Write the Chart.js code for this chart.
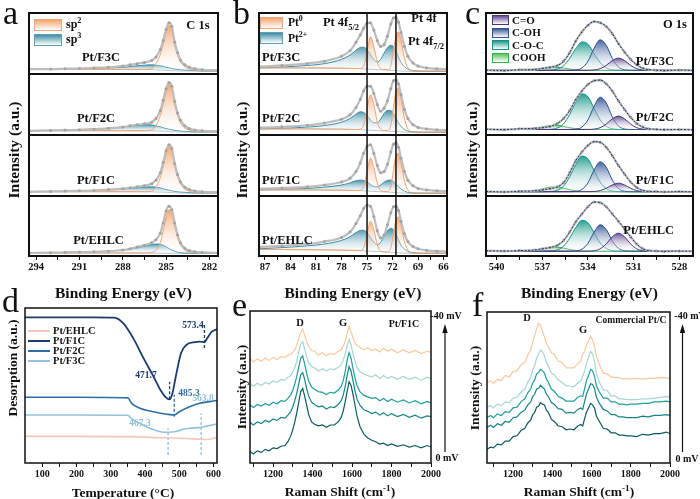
<!DOCTYPE html>
<html>
<head>
<meta charset="utf-8">
<title>XPS / TPD / Raman</title>
<script src="https://cdn.jsdelivr.net/npm/chart.js@4.4.1/dist/chart.umd.min.js"></script>
<style>
  html, body { margin: 0; padding: 0; background: #fff; }
  #fig { position: relative; width: 700px; height: 499px; overflow: hidden;
         font-family: "Liberation Serif", "Times New Roman", serif; color: #111; }
  #fig canvas { position: absolute; z-index: 1; }
  #ov { position: absolute; left: 0; top: 0; z-index: 5; }
  .t { position: absolute; white-space: nowrap; font-weight: bold; line-height: 1; z-index: 6; }
  .rot { position: absolute; white-space: nowrap; font-weight: bold; line-height: 1; z-index: 6;
         transform: translate(-50%, -50%) rotate(-90deg); }
  .sw { position: absolute; box-sizing: border-box; z-index: 6; }
  sub, sup { font-size: 68%; line-height: 0; }
</style>
</head>
<body>
<div id="fig">
  <svg id="ov" width="700" height="499">
    <!-- potential arrows, panels e and f -->
    <line x1="445" y1="452" x2="445" y2="331" stroke="#111" stroke-width="1.2"/>
    <polygon points="445,324 442.3,333 447.7,333" fill="#111"/>
    <line x1="682.5" y1="452" x2="682.5" y2="331" stroke="#111" stroke-width="1.2"/>
    <polygon points="682.5,324 679.8,333 685.2,333" fill="#111"/>
    <!-- legend lines, panel d -->
    <line x1="28" y1="331" x2="50" y2="331" stroke="#f5c6ba" stroke-width="2"/>
    <line x1="28" y1="341" x2="50" y2="341" stroke="#1d3c6e" stroke-width="2"/>
    <line x1="28" y1="351" x2="50" y2="351" stroke="#2c6fa6" stroke-width="2"/>
    <line x1="28" y1="361" x2="50" y2="361" stroke="#93c3da" stroke-width="2"/>
  </svg>
</div>
<script>
// ---------- a: C 1s ----------
const cX = [294.5, 293, 292, 291, 290, 289, 288, 287.5, 287, 286.5, 286, 285.7, 285.4, 285.2, 285.0, 284.8, 284.6, 284.4, 284.2, 284.0, 283.7, 283.4, 283, 282.5, 281.4];
const aEnvF3C  = [8, 8, 8.5, 9, 10, 11, 13, 15, 17, 19, 22, 28, 40, 55, 73, 84, 78, 52, 35, 23, 15, 11, 8.5, 7, 6];
const aSp2F3C  = [7.5, 7.5, 7.5, 7.5, 7.5, 7.5, 7.5, 7.5, 7.5, 7.5, 8.5, 17, 32, 48, 68, 80, 74, 48, 31, 20, 12, 8.5, 6.5, 5.5, 5];
const aSp3F3C  = [7.5, 8, 8.5, 9, 9.5, 10, 11, 12, 13.5, 14.5, 15, 14.5, 13.5, 12.5, 11, 10, 9, 8, 7.5, 7, 6.5, 6, 5.5, 5, 5];
const aBaseF3C = [7.5, 7.5, 7.5, 7.5, 7.5, 7.5, 7.5, 7.5, 7.5, 7.5, 7.3, 7, 6.7, 6.4, 6.1, 5.8, 5.6, 5.4, 5.2, 5, 5, 5, 5, 5, 5];
const aEnvF2C  = [7, 7.5, 8, 8.5, 9.5, 11, 13, 15, 17, 18.5, 21, 27, 40, 57, 76, 86, 80, 55, 36, 24, 15, 10.5, 8, 7, 6];
const aSp2F2C  = [7, 7, 7, 7, 7, 7, 7, 7, 7, 7, 8, 16, 32, 50, 71, 83, 76, 50, 32, 20, 11.5, 8, 6.5, 5.5, 5];
const aSp3F2C  = [7, 7.5, 8, 8.5, 9.5, 11, 13, 14.5, 16, 17, 16.5, 15, 13.5, 12, 10.5, 9.5, 8.5, 7.5, 7, 6.5, 6, 5.5, 5, 5, 5];
const aBaseF2C = [7, 7, 7, 7, 7, 7, 7, 7, 7, 7, 6.9, 6.7, 6.5, 6.3, 6.1, 5.8, 5.6, 5.4, 5.2, 5, 5, 5, 5, 5, 5];
const aEnvF1C  = [7, 7.5, 8, 8.5, 9, 10.5, 12, 13.5, 15, 17, 20, 26, 38, 55, 74, 84, 78, 53, 35, 23, 14.5, 10.5, 8, 7, 6];
const aSp2F1C  = [7, 7, 7, 7, 7, 7, 7, 7, 7, 7, 8, 15, 30, 48, 69, 81, 75, 49, 31, 20, 11.5, 8, 6.5, 5.5, 5];
const aSp3F1C  = [7, 7.5, 8, 8.5, 9, 10, 11.5, 12.5, 13.5, 14.5, 15, 14.5, 13.5, 12, 10.5, 9.5, 8.5, 7.5, 7, 6.5, 6, 5.5, 5, 5, 5];
const aBaseF1C = [7, 7, 7, 7, 7, 7, 7, 7, 7, 7, 6.9, 6.7, 6.5, 6.3, 6.1, 5.8, 5.6, 5.4, 5.2, 5, 5, 5, 5, 5, 5];
const aEnvEHLC  = [5, 5.5, 6, 6.5, 7, 8, 10, 12, 15, 18, 22, 27, 38, 55, 75, 83, 77, 55, 35, 22, 13, 9, 7, 6, 5];
const aSp2EHLC  = [5, 5, 5, 5, 5, 5, 5, 5, 5, 5, 6, 9, 22, 42, 65, 77, 72, 50, 31, 19, 10, 7, 5.5, 5, 4.5];
const aSp3EHLC  = [5, 5.5, 6, 6.5, 7, 8, 10, 11.5, 13.5, 16.5, 19, 20, 19.5, 18, 15.5, 12.5, 10, 8, 6.5, 5.5, 5, 4.8, 4.6, 4.5, 4.5];
const aBaseEHLC = [5, 5, 5, 5, 5, 5, 5, 5, 5, 5, 4.9, 4.8, 4.7, 4.6, 4.5, 4.5, 4.5, 4.5, 4.5, 4.5, 4.5, 4.5, 4.5, 4.5, 4.5];
const aTicks = [294, 291, 288, 285, 282];
const aMinor = [292.5, 289.5, 286.5, 283.5];

// ---------- b: Pt 4f ----------
const pX = [87.7, 85, 82, 80, 78, 77, 76.3, 75.8, 75.4, 75.0, 74.6, 74.2, 73.8, 73.4, 73.0, 72.6, 72.2, 71.9, 71.6, 71.3, 71.0, 70.6, 70.2, 69.6, 69, 68, 66.8, 65.6];
const bBase    = [10, 10, 10, 9.8, 9.5, 9.2, 9, 8.8, 8.5, 8.2, 7.9, 7.6, 7.3, 7.0, 6.8, 6.5, 6.2, 5.9, 5.6, 5.3, 5.0, 4.8, 4.6, 4.5, 4.5, 4.5, 4.5, 4.5];
const bEnvF3C  = [12, 14, 17, 21, 29, 38, 52, 64, 75, 83, 84, 72, 55, 45, 48, 62, 82, 92, 93, 85, 68, 45, 29, 18, 13, 10, 8.5, 8];
const bPt0F3C  = [10, 10, 10, 9.8, 9.5, 9.2, 9, 9, 13, 36, 61, 45, 20, 9, 7.5, 7.5, 14, 38, 62, 69, 55, 26, 10, 5, 4.5, 4.5, 4.5, 4.5];
const bPt2F3C  = [10, 11.5, 14, 17, 24, 31, 39, 43.5, 44, 40, 32, 24, 20, 24, 34, 43, 47, 45, 38, 28, 19, 12, 8, 5.5, 4.8, 4.5, 4.5, 4.5];
const bEnvF2C  = [12, 13.5, 16, 19.5, 26, 33, 45, 58, 72, 80, 80, 68, 50, 39, 44, 56, 76, 89, 91, 84, 66, 42, 27, 17, 12.5, 10, 8.5, 8];
const bPt0F2C  = [10, 10, 10, 9.8, 9.5, 9.2, 9, 9.5, 16, 42, 66, 50, 22, 9.5, 7.5, 7.5, 16, 45, 72, 77, 58, 27, 10, 5, 4.5, 4.5, 4.5, 4.5];
const bPt2F2C  = [10, 11, 13, 15.5, 21, 27, 34, 38, 37, 32, 25, 20, 20, 26, 35, 40.5, 40, 35, 28, 20, 14, 9, 6.5, 5, 4.6, 4.5, 4.5, 4.5];
const bEnvF1C  = [12, 13, 15, 18, 23, 29, 40, 54, 70, 81, 84, 70, 50, 38, 40, 52, 72, 85, 87, 80, 62, 40, 26, 17, 12.5, 10, 8.5, 8];
const bPt0F1C  = [10, 10, 10, 9.8, 9.5, 9.2, 9, 9.5, 15, 39, 62, 47, 21, 9, 7.5, 7.5, 15, 42, 66, 70, 54, 25, 10, 5, 4.5, 4.5, 4.5, 4.5];
const bPt2F1C  = [10, 11, 12.5, 14.5, 18, 21.5, 25, 26, 25.5, 23, 19, 15.5, 15, 18, 22.5, 25.5, 26, 24, 20, 15.5, 11.5, 8, 6, 5, 4.6, 4.5, 4.5, 4.5];
const bBaseEHLC = [11, 10.8, 10.5, 10.2, 9.8, 9.5, 9.2, 9, 8.7, 8.4, 8.1, 7.8, 7.5, 7.2, 6.9, 6.6, 6.3, 6, 5.7, 5.4, 5.1, 4.8, 4.6, 4.5, 4.5, 4.5, 4.5, 4.5];
const bEnvEHLC = [15, 17, 20, 24, 31, 40, 54, 67, 79, 85, 83, 66, 42, 30, 35, 52, 72, 82, 83, 76, 58, 37, 24, 16, 12, 9.5, 8, 7.5];
const bPt0EHLC = [11, 10.8, 10.5, 10.2, 9.8, 9.5, 9.2, 9.2, 14, 35, 58, 44, 19, 8, 7, 6.8, 14, 37, 60, 65, 51, 24, 10, 5, 4.5, 4.5, 4.5, 4.5];
const bPt2EHLC = [12, 14, 17, 20, 26, 32, 39, 42.5, 43, 39, 31, 23, 19, 23, 33, 42, 46, 44, 37, 27, 18, 11.5, 7.5, 5.5, 4.8, 4.5, 4.5, 4.5];
const bGuides = [75.0, 71.6];
const bTicks = [87, 84, 81, 78, 75, 72, 69, 66];
const bMinor = [85.5, 82.5, 79.5, 76.5, 73.5, 70.5, 67.5];

// ---------- c: O 1s ----------
const oX = [540.7, 539.5, 538.5, 537.5, 537, 536.5, 536, 535.6, 535.2, 534.8, 534.4, 534.0, 533.6, 533.2, 532.8, 532.4, 532.0, 531.6, 531.2, 530.8, 530.4, 530.0, 529.5, 529, 528, 527.1];
const oBaseF3C = [6,6,6,6,6, 6,6,6,6,6, 6,6,6,6,6, 6,6,6,6,6, 6,6,6,6,6, 6];
const oEnvF3C  = [6.5,5.5,6.8,7.5,9, 11,14,21,35,54, 69,80,86,84,78, 66,50,36,24,15, 9.5,7,6.2,5.6,6.4, 5.8];
const oCOCF3C  = [6,6,6,6,6, 6.2,8.1,13.5,25.7,41.7, 52.5,48.8,33.7,18.7,10.1, 6.9,6.1,6,6,6, 6,6,6,6,6, 6];
const oCOHF3C  = [6,6,6,6,6, 6,6,6,6.1,6.6, 9.8,21,42,56,47, 25.5,11.5,7,6.1,6, 6,6,6,6,6, 6];
const oCOF3C   = [6,6,6,6,6, 6,6,6,6,6, 6,6.1,6.6,8.7,14.2, 22,26,22,14.2,8.7, 6.6,6.1,6,6,6, 6];
const oCOOHF3C = [6,6,6.05,7.2,8.9, 10.7,10.9,9.7,8.1,6.9, 6.3,6.1,6,6,6, 6,6,6,6,6, 6,6,6,6,6, 6];
const oBaseF2C = [9,9,9,9,9, 9,9,9,9,9, 9,9,9,9,9, 9,9,9,9,9, 9,9,9,9,9, 9];
const oEnvF2C  = [9.5,8.8,10.2,11,12, 14,19,27,40,58, 72,83,89,90,84, 72,56,42,29,19, 13,10,9.3,8.7,9, 8.5];
const oCOCF2C  = [9,9,9,9,9, 9.3,11.6,18.4,33.8,53.8, 67.4,62.7,43.8,24.9,14.2, 10.2,9.2,9,9,9, 9,9,9,9,9, 9];
const oCOHF2C  = [9,9,9,9,9, 9,9,9,9.1,9.6, 13,24.9,47.2,62,52.5, 29.7,14.8,10,9.1,9, 9,9,9,9,9, 9];
const oCOF2C   = [9,9,9,9,9, 9,9,9,9,9, 9,9.1,9.6,12,18, 26.6,31,26.6,18,12, 9.6,9.1,9,9,9, 9];
const oCOOHF2C = [9,9,9.1,10.6,13, 15.5,15.8,14.1,11.9,10.3, 9.4,9.1,9,9,9, 9,9,9,9,9, 9,9,9,9,9, 9];
const oBaseF1C = [7,7,7,7,7, 7,7,7,7,7, 7,7,7,7,7, 7,7,7,7,7, 7,7,7,7,7, 7];
const oEnvF1C  = [7.5,6.6,7.8,8.5,10, 12,15,22,38,58, 72,83,89,88,80, 66,50,36,23,14, 9,7.5,7.2,6.6,7.3, 6.8];
const oCOCF1C  = [7,7,7,7,7, 7.3,9.6,16.4,31.8,51.8, 65.4,60.7,41.8,22.9,12.2, 8.2,7.2,7,7,7, 7,7,7,7,7, 7];
const oCOHF1C  = [7,7,7,7,7, 7,7,7,7.05,7.5, 10.7,21.7,42.3,56,47.2, 26.1,12.4,7.9,7.1,7, 7,7,7,7,7, 7];
const oCOF1C   = [7,7,7,7,7, 7,7,7,7,7, 7,7.05,7.4,8.9,12.7, 18.2,21,18.2,12.7,8.9, 7.4,7.05,7,7,7, 7];
const oCOOHF1C = [7,7,7.1,8.8,11.6, 14.4,14.8,12.8,10.4,8.4, 7.5,7.1,7,7,7, 7,7,7,7,7, 7,7,7,7,7, 7];
const oBaseEHLC = [8,8,8,8,8, 8,8,8,8,8, 8,8,8,8,8, 8,8,8,8,8, 8,8,8,8,8, 8];
const oEnvEHLC  = [8.8,8.2,9,10,12, 14,18,26,40,57, 70,82,90,89,82, 70,58,45,32,20, 12,9,8.3,7.7,8.2, 7.8];
const oCOCEHLC  = [8,8,8,8,8, 8.3,10.3,16.3,29.8,47.5, 59.5,55.3,38.7,22,12.6, 9,8.2,8,8,8, 8,8,8,8,8, 8];
const oCOHEHLC  = [8,8,8,8,8, 8,8,8,8.05,8.5, 11.3,21.2,39.7,52,44.1, 25.2,12.8,8.8,8.1,8, 8,8,8,8,8, 8];
const oCOEHLC   = [8,8,8,8,8, 8,8,8,8,8, 8,8.1,8.8,12,20.3, 32,38,32,20.3,12, 8.8,8.1,8,8,8, 8];
const oCOOHEHLC = [8,8,8.1,9.6,12, 14.5,14.8,13.1,10.9,9.3, 8.4,8.1,8,8,8, 8,8,8,8,8, 8,8,8,8,8, 8];
const oTicks = [540, 537, 534, 531, 528];
const oMinor = [538.5, 535.5, 532.5, 529.5];

// ---------- d: TPD ----------
const dTF1C  = [50, 150, 250, 310, 337, 366, 396, 425, 445, 460, 471.7, 480, 490, 505, 520, 545, 560, 573.4, 580, 595, 610];
const dF1C   = [94, 94, 94, 93.8, 90.1, 80.4, 67.5, 55.7, 47.1, 42.5, 41.0, 45, 56, 70.8, 76.1, 78, 78.3, 78.0, 80.0, 84.7, 86.3];
const dTF2C  = [50, 200, 350, 361, 385, 414, 445, 473, 485.3, 500, 530, 559, 610];
const dF2C   = [42.4, 42.4, 42.0, 38.5, 35.3, 33.5, 32.1, 31.2, 31.0, 33.1, 36.3, 38.5, 40.3];
const dTF3C  = [50, 200, 350, 361, 385, 414, 445, 467.3, 490, 510, 530, 563.8, 580, 610];
const dF3C   = [31, 31, 30.8, 28.5, 25.6, 22.4, 20.2, 19.8, 20.3, 21.7, 22.4, 23.0, 23.8, 25.2];
const dTEHLC = [50, 200, 350, 450, 520, 580, 610];
const dEHLC  = [17.2, 17.2, 17.0, 16.3, 15.8, 15.2, 16.5];
const dPeakT  = [573.4, 471.7, 485.3, 467.3, 563.8];
const dPeakHi = [89, 52.5, 44, 22.4, 32];
const dPeakLo = [74.2, 41.1, 29.9, 5.2, 5.2];
const dTicks = [100, 200, 300, 400, 500, 600];
const dMinor = [150, 250, 350, 450, 550];

// ---------- e / f: Raman ----------
const rX = [1065, 1085, 1100, 1120, 1140, 1160, 1180, 1200, 1220, 1240, 1260, 1275, 1290, 1300, 1310, 1320, 1330, 1340, 1350, 1360, 1370, 1380, 1395, 1410, 1430, 1450, 1470, 1490, 1510, 1530, 1545, 1555, 1565, 1575, 1585, 1595, 1605, 1615, 1625, 1640, 1660, 1680, 1700, 1720, 1740, 1760, 1780, 1800, 1830, 1860, 1890, 1920, 1950, 1980, 2000];
const e40 = [67, 68.5, 66.5, 68.5, 67, 69, 67.5, 69.5, 68, 70, 69.5, 71, 71.5, 73, 74.5, 77.5, 82, 86, 88, 84, 80, 76.5, 74, 73.5, 71, 72.5, 70.5, 72, 71.5, 73.5, 74.5, 77, 80, 85.5, 90, 86, 82.5, 79, 77.5, 76, 74.5, 76, 74, 75, 73, 75.5, 73.5, 75, 72.5, 74.5, 72.5, 74, 72, 73.5, 73];
const e30 = [51, 52, 50.5, 52.5, 51, 53, 52, 54, 53, 55, 54.5, 56.5, 57.5, 60, 63, 67, 73, 78.5, 79.8, 75, 70, 66, 63.5, 62.5, 60.5, 62, 60.5, 62, 61.5, 63, 64.5, 67.5, 71.5, 77, 81, 77.5, 72, 67, 63, 60, 58.5, 57.5, 56.5, 58, 55.5, 57.5, 55.5, 57, 55, 57, 55, 56.5, 54.5, 56.5, 55.5];
const e20 = [37, 38, 36.5, 38.5, 37.5, 39, 38, 40, 39, 41, 40.5, 42.5, 45, 48, 52, 57, 63, 69, 70.4, 65, 59, 54, 50, 48.5, 47, 46.5, 45, 46.5, 46, 48, 50.5, 54, 60, 67.5, 72.6, 69, 62, 56, 51, 47, 44.5, 43.5, 42.5, 43, 41, 42.5, 40.5, 42, 40, 41.5, 39.5, 41, 39, 40.5, 39.5];
const e10 = [25.5, 26.5, 25, 27, 26, 28, 27, 29, 28, 30, 29.5, 31.5, 34, 37, 41, 46, 52, 58, 59.4, 55, 49, 44, 40, 38.5, 37, 37.5, 35.5, 37, 36.5, 38.5, 41, 44.5, 50, 57.5, 63.4, 60.5, 54, 47.5, 42, 38, 35, 34, 32.5, 33.5, 31.5, 33, 31, 32.5, 30.5, 32, 30, 31.5, 29.5, 31, 30.5];
const e0  = [6.5, 7.5, 6, 8, 7, 9, 8, 10, 9.5, 11, 11.5, 14, 18, 22, 27, 33, 40, 47, 49, 44, 38, 32, 27, 25.5, 24.5, 25, 23.5, 25, 25, 27, 30, 34, 40, 47, 53.5, 51, 45, 38, 31, 24, 19, 16.5, 15, 14, 12.5, 13, 11.5, 12.5, 11, 12, 10.5, 11.5, 10, 11.5, 10.5];
const f40 = [53, 54.5, 52.5, 55.5, 54.5, 58, 57, 60.5, 61, 65, 66.5, 71.5, 75, 80, 84.5, 89, 92.5, 91, 87, 83.5, 79, 77, 73, 72, 67.5, 66.5, 63, 63, 63, 66, 67.5, 72, 74, 78.5, 81, 84, 81.5, 77.5, 70.5, 65, 59.5, 59, 57, 56.5, 56.5, 55.5, 56, 55.5, 56, 55.5, 56, 56, 56.5, 56.5, 55.5];
const f30 = [36.5, 38, 36.5, 39, 38, 40.5, 40, 43, 43.5, 47, 49, 53.5, 57, 61.5, 64.5, 69.5, 72, 75, 73.5, 71, 66.5, 64, 59.5, 58.5, 55, 53.5, 51, 51, 50.5, 53, 54.5, 57.5, 61, 66.5, 70, 74, 72, 67.5, 59.5, 53.5, 48.5, 48, 44.5, 44.5, 42.5, 42.5, 42, 42, 42, 42.5, 42.5, 43, 43.5, 44, 43.5];
const f20 = [30, 31.5, 30, 32.5, 31.5, 34, 33.5, 36.5, 37, 40.5, 42.5, 46.5, 49, 53, 55, 59, 60, 62, 61, 59.5, 55.5, 53.5, 49, 47.5, 44, 43, 41, 41, 41, 43.5, 44.5, 44, 49.5, 55, 58, 62, 61, 57.5, 51, 47, 43, 43, 40.5, 40.5, 39, 39, 38.5, 39, 39, 39.5, 39.5, 40.5, 40.5, 41, 40.5];
const f10 = [23.5, 25, 23.5, 26, 25, 27.5, 27, 30, 30.5, 33.5, 35, 38.5, 40.5, 44, 45.5, 49, 49.5, 51.5, 50, 49, 45.5, 44, 40, 39, 36, 35.5, 33, 33.5, 33, 35.5, 36.5, 35.5, 41, 46, 49, 52.5, 52, 49.5, 43.5, 39.5, 35.5, 34.5, 32, 32, 30.5, 30.5, 30, 30, 30, 31, 30.5, 31.5, 31.5, 32, 31.5];
const f0  = [9, 10.5, 10, 12.5, 12, 14.5, 14.5, 17.5, 18, 21.5, 23, 26.5, 28.5, 32, 33.5, 37, 37.5, 40, 39, 38.5, 35, 33.5, 29, 27.5, 24.5, 24, 22, 22.5, 22, 24.5, 25.5, 24.5, 29.5, 34, 36.5, 39.5, 38.5, 36.5, 31, 27.5, 23, 22.5, 20, 20, 18.5, 18.5, 18, 18, 17.5, 19, 18.5, 19.5, 19.5, 20.5, 19.5];
const rTicks = [1200, 1400, 1600, 1800, 2000];
const rMinor = [1100, 1300, 1500, 1700, 1900];
const ramanColors = ['#f9c89b', '#a6d6cf', '#1f9e9e', '#168586', '#0d5a5e'];

// ---------- layout ----------
const fig = document.getElementById('fig');
const PADX = 18, PADT = 3;
const ROWS_Y = [[13, 74], [74, 135], [135, 196], [196, 256]];
const SERIF = '"Liberation Serif", "Times New Roman", serif';

const framePlugin = {
  id: 'frame',
  afterDatasetsDraw(chart, args, o) {
    const a = chart.chartArea, g = chart.ctx, xs = chart.scales.x;
    g.save();
    (o.guides || []).forEach(v => {
      const px = xs.getPixelForValue(v);
      g.beginPath(); g.moveTo(px, a.top); g.lineTo(px, a.bottom);
      g.lineWidth = 1.5; g.strokeStyle = '#111'; g.stroke();
    });
    g.lineWidth = o.width || 1.5;
    g.strokeStyle = '#111';
    g.strokeRect(a.left, a.top, a.right - a.left, a.bottom - a.top);
    g.restore();
  }
};
Chart.register(framePlugin);

function makeCanvas(box, axisH) {
  const c = document.createElement('canvas');
  const w = box.r - box.l + 2 * PADX;
  const h = box.b - box.t + PADT + (axisH || PADT);
  c.width = w; c.height = h;
  c.style.left = (box.l - PADX) + 'px';
  c.style.top = (box.t - PADT) + 'px';
  c.style.width = w + 'px'; c.style.height = h + 'px';
  fig.appendChild(c);
  return c;
}

function chartOptions(s) {
  const all = s.major.concat(s.minor).sort((p, q) => p - q);
  return {
    responsive: false, animation: false, devicePixelRatio: 1,
    layout: { autoPadding: false,
              padding: { left: PADX, right: PADX, top: PADT, bottom: s.axisH ? 0 : PADT } },
    plugins: { legend: { display: false }, tooltip: { enabled: false },
               frame: { width: s.frameW, guides: s.guides } },
    elements: { point: { radius: 0, hoverRadius: 0 } },
    scales: {
      x: {
        type: 'linear', min: s.min, max: s.max, reverse: !!s.reverse, display: !!s.axisH,
        afterBuildTicks: sc => { sc.ticks = all.map(v => ({ value: v })); },
        afterFit: sc => { sc.height = s.axisH; },
        ticks: { autoSkip: false, maxRotation: 0, padding: 1, color: '#111',
                 font: { family: SERIF, weight: 'bold', size: s.tickSize },
                 callback: v => s.major.includes(v) ? String(v) : '' },
        grid: { display: true, drawOnChartArea: false, drawTicks: true, tickLength: 4,
                color: '#111', lineWidth: 1 },
        border: { display: false }
      },
      y: { display: false, min: 0, max: 100 }
    }
  };
}

function pts(xs, ys) { return xs.map((x, i) => ({ x: x, y: ys[i] })); }

function gradFill(rgb) {
  return ctx => {
    const ch = ctx.chart, a = ch.chartArea;
    if (!a) return 'rgba(0,0,0,0)';
    const ys = ch.data.datasets[ctx.datasetIndex].data.map(p => p.y);
    const y0 = ch.scales.y.getPixelForValue(Math.max(...ys));
    const y1 = ch.scales.y.getPixelForValue(Math.min(...ys));
    const g = ch.ctx.createLinearGradient(0, y0, 0, Math.max(y1, y0 + 1));
    g.addColorStop(0, 'rgba(' + rgb + ',0.92)');
    g.addColorStop(1, 'rgba(255,255,255,0.15)');
    return g;
  };
}

function baseDs(xs, ys) {
  return { data: pts(xs, ys), borderColor: 'rgba(110,140,150,0.7)', borderWidth: 0.8,
           cubicInterpolationMode: 'monotone', order: 9 };
}
function compDs(xs, ys, line, rgb, ord) {
  return { data: pts(xs, ys), borderColor: line, borderWidth: 1, fill: 0,
           backgroundColor: gradFill(rgb), cubicInterpolationMode: 'monotone', order: ord };
}
function envDs(xs, ys) {
  return { data: pts(xs, ys), borderColor: '#bdbdbd', borderWidth: 2.2,
           pointRadius: 1.5, pointBackgroundColor: '#a3a3a3', pointBorderWidth: 0,
           cubicInterpolationMode: 'monotone', order: 1 };
}
function fitDs(xs, ys) {
  return { data: pts(xs, ys), borderColor: '#1e3563', borderWidth: 1, borderDash: [2, 1.5],
           cubicInterpolationMode: 'monotone', order: 0 };
}

function xpsPanel(l, r, rows, spec) {
  rows.forEach((sets, i) => {
    const [t, b] = ROWS_Y[i];
    const last = i === rows.length - 1;
    const c = makeCanvas({ l: l, r: r, t: t, b: b }, last ? 22 : 0);
    new Chart(c, { type: 'line', data: { datasets: sets },
      options: chartOptions(Object.assign({}, spec, { axisH: last ? 22 : 0, tickSize: 10.5, frameW: 2 })) });
  });
}

// panel a
const SP2 = ['#f0a272', '244,160,102'], SP3 = ['#3f8fa7', '52,138,163'];
function aRow(env, sp2, sp3, base) {
  return [baseDs(cX, base), compDs(cX, sp3, SP3[0], SP3[1], 3),
          compDs(cX, sp2, SP2[0], SP2[1], 2), envDs(cX, env)];
}
xpsPanel(29, 218, [
  aRow(aEnvF3C, aSp2F3C, aSp3F3C, aBaseF3C),
  aRow(aEnvF2C, aSp2F2C, aSp3F2C, aBaseF2C),
  aRow(aEnvF1C, aSp2F1C, aSp3F1C, aBaseF1C),
  aRow(aEnvEHLC, aSp2EHLC, aSp3EHLC, aBaseEHLC)
], { min: 281.4, max: 294.5, reverse: true, major: aTicks, minor: aMinor });

// panel b
function bRow(env, pt0, pt2, base) {
  return [baseDs(pX, base), compDs(pX, pt2, '#3a8ca3', '50,134,160', 3),
          compDs(pX, pt0, SP2[0], SP2[1], 2), envDs(pX, env)];
}
xpsPanel(259, 447, [
  bRow(bEnvF3C, bPt0F3C, bPt2F3C, bBase),
  bRow(bEnvF2C, bPt0F2C, bPt2F2C, bBase),
  bRow(bEnvF1C, bPt0F1C, bPt2F1C, bBase),
  bRow(bEnvEHLC, bPt0EHLC, bPt2EHLC, bBaseEHLC)
], { min: 65.6, max: 87.7, reverse: true, major: bTicks, minor: bMinor, guides: bGuides });

// panel c
function cRow(env, co, coh, coc, cooh, base) {
  return [baseDs(oX, base),
          compDs(oX, cooh, '#3cae4a', '85,190,85', 6),
          compDs(oX, coc, '#148f86', '22,150,136', 5),
          compDs(oX, coh, '#2c4f8a', '52,86,150', 4),
          compDs(oX, co, '#4b3577', '92,68,145', 3),
          envDs(oX, env), fitDs(oX, env)];
}
xpsPanel(486, 693, [
  cRow(oEnvF3C, oCOF3C, oCOHF3C, oCOCF3C, oCOOHF3C, oBaseF3C),
  cRow(oEnvF2C, oCOF2C, oCOHF2C, oCOCF2C, oCOOHF2C, oBaseF2C),
  cRow(oEnvF1C, oCOF1C, oCOHF1C, oCOCF1C, oCOOHF1C, oBaseF1C),
  cRow(oEnvEHLC, oCOEHLC, oCOHEHLC, oCOCEHLC, oCOOHEHLC, oBaseEHLC)
], { min: 527.1, max: 540.7, reverse: true, major: oTicks, minor: oMinor });

// panel d
const dColors = ['#1d3c6e', '#1d3c6e', '#2c6fa6', '#8dbfd6', '#8dbfd6'];
function lineDs(xs, ys, color, w) {
  return { data: pts(xs, ys), borderColor: color, borderWidth: w, cubicInterpolationMode: 'monotone' };
}
const dSets = [
  lineDs(dTEHLC, dEHLC, '#f5c6ba', 1.6),
  lineDs(dTF3C, dF3C, '#93c3da', 1.6),
  lineDs(dTF2C, dF2C, '#2c6fa6', 1.6),
  lineDs(dTF1C, dF1C, '#1d3c6e', 1.8)
];
dPeakT.forEach((t, i) => {
  dSets.push({ data: [{ x: t, y: dPeakLo[i] }, { x: t, y: dPeakHi[i] }],
               borderColor: dColors[i], borderWidth: 1.3, borderDash: [3, 2] });
});
new Chart(makeCanvas({ l: 25, r: 217, t: 308, b: 463 }, 20), { type: 'line', data: { datasets: dSets },
  options: chartOptions({ min: 50, max: 610, major: dTicks, minor: dMinor, axisH: 20, tickSize: 10, frameW: 1.5 }) });

// panels e, f
function ramanSets(series) {
  return series.map((ys, i) => ({ data: pts(rX, ys), borderColor: ramanColors[i], borderWidth: 1.2 }));
}
new Chart(makeCanvas({ l: 250, r: 431, t: 311, b: 463 }, 20), { type: 'line',
  data: { datasets: ramanSets([e40, e30, e20, e10, e0]) },
  options: chartOptions({ min: 1083, max: 2000, major: rTicks, minor: rMinor, axisH: 20, tickSize: 10, frameW: 1.5 }) });
new Chart(makeCanvas({ l: 487, r: 670, t: 312, b: 463 }, 20), { type: 'line',
  data: { datasets: ramanSets([f40, f30, f20, f10, f0]) },
  options: chartOptions({ min: 1067, max: 2000, major: rTicks, minor: rMinor, axisH: 20, tickSize: 10, frameW: 1.5 }) });

// ---------- text ----------
function label(html, x, base, size, o) {
  o = o || {};
  const d = document.createElement('div');
  d.className = 't';
  d.innerHTML = html;
  d.style.fontSize = size + 'px';
  d.style.left = x + 'px';
  d.style.top = (base - 0.84 * size) + 'px';
  if (o.color) d.style.color = o.color;
  if (o.normal) d.style.fontWeight = 'normal';
  const al = o.align || 'center';
  d.style.transform = al === 'center' ? 'translateX(-50%)' : (al === 'right' ? 'translateX(-100%)' : 'none');
  fig.appendChild(d);
}
function vlabel(html, x, y, size) {
  const d = document.createElement('div');
  d.className = 'rot';
  d.innerHTML = html;
  d.style.fontSize = size + 'px';
  d.style.left = x + 'px'; d.style.top = y + 'px';
  fig.appendChild(d);
}
function swatch(x, y, w, h, rgb, border) {
  const d = document.createElement('div');
  d.className = 'sw';
  Object.assign(d.style, { left: x + 'px', top: y + 'px', width: w + 'px', height: h + 'px',
    background: 'linear-gradient(to bottom, rgba(' + rgb + ',0.95), #ffffff)', border: '1px solid ' + border });
  fig.appendChild(d);
}

// panel letters
[['a', 3, 25], ['b', 233, 25], ['c', 465, 25], ['d', 2, 313], ['e', 232, 317], ['f', 472, 317]]
  .forEach(p => label(p[0], p[1], p[2], 34, { align: 'left', normal: true }));

// axis titles
[123.5, 353, 589.5].forEach(x => label('Binding Energy (eV)', x, 298, 15.5));
[14, 242, 472].forEach(x => vlabel('Intensity (a.u.)', x, 150, 15.5));
vlabel('Desorption (a.u.)', 13, 368, 13.5);
vlabel('Intensity (a.u.)', 242, 387, 13.5);
vlabel('Intensity (a.u.)', 475, 388, 13.5);
label('Temperature (\u00B0C)', 123, 497, 13.5);
label('Raman Shift (cm<sup>-1</sup>)', 340, 496, 13.5);
label('Raman Shift (cm<sup>-1</sup>)', 579, 496, 13.5);

// sample names
const names = ['Pt/F3C', 'Pt/F2C', 'Pt/F1C', 'Pt/EHLC'];
[[101, 61.5], [96, 122.5], [96, 184.5], [98.5, 244.5]].forEach((p, i) => label(names[i], p[0], p[1], 12.5));
[61.5, 122.5, 184.5, 244.5].forEach((y, i) => label(names[i], 262, y, 12.5, { align: 'left' }));
[65.5, 121.5, 184.5, 234.5].forEach((y, i) => label(names[i], 674, y, 12.5, { align: 'right' }));

// panel a legend
swatch(34, 19, 28, 12, '244,160,102', '#eda57a');
swatch(34, 34, 28, 12, '52,138,163', '#5d9fb3');
label('sp<sup>2</sup>', 66, 28, 12, { align: 'left' });
label('sp<sup>3</sup>', 66, 43, 12, { align: 'left' });
label('C 1s', 198, 29, 12.5);

// panel b legend + notes
swatch(260, 17, 23, 12, '244,160,102', '#eda57a');
swatch(260, 32, 23, 12, '50,134,160', '#5d9fb3');
label('Pt<sup>0</sup>', 288, 27, 11.5, { align: 'left' });
label('Pt<sup>2+</sup>', 288, 43, 11.5, { align: 'left' });
label('Pt 4f<sub>5/2</sub>', 341, 26, 12.5);
label('Pt 4f', 424, 22, 12.5);
label('Pt 4f<sub>7/2</sub>', 426, 45, 12.5);

// panel c legend
const oLeg = [['C=O', '92,68,145', '#4b3577'], ['C-OH', '52,86,150', '#2c4f8a'],
              ['C-O-C', '22,150,136', '#148f86'], ['COOH', '85,190,85', '#3cae4a']];
oLeg.forEach((e, i) => {
  swatch(492, 15 + i * 12.5, 17, 10, e[1], e[2]);
  label(e[0], 512, 24 + i * 12.5, 11, { align: 'left' });
});
label('O 1s', 675, 28, 12.5);

// panel d legend + peak labels
['Pt/EHLC', 'Pt/F1C', 'Pt/F2C', 'Pt/F3C'].forEach((n, i) => label(n, 53, 334.5 + i * 10, 10.5, { align: 'left' }));
label('573.4', 193, 329, 9.5, { color: '#1d3c6e' });
label('471.7', 146, 379, 9.5, { color: '#1d3c6e' });
label('485.3', 189, 397, 9.5, { color: '#2c6fa6' });
label('467.3', 140, 427, 9.5, { color: '#8dbfd6' });
label('563.8', 203, 402, 9.5, { color: '#8dbfd6' });

// panel e, f notes
label('D', 300, 327, 10.5);
label('G', 343, 327, 10.5);
label('Pt/F1C', 404, 327, 10);
label('-40 mV', 446, 319, 10);
label('0 mV', 447, 461, 10);
label('D', 527, 322, 10.5);
label('G', 583, 334, 10.5);
label('Commercial Pt/C', 631, 324, 9.5);
label('-40 mV', 690, 319, 10);
label('0 mV', 687, 462, 10);
</script>
</body>
</html>
